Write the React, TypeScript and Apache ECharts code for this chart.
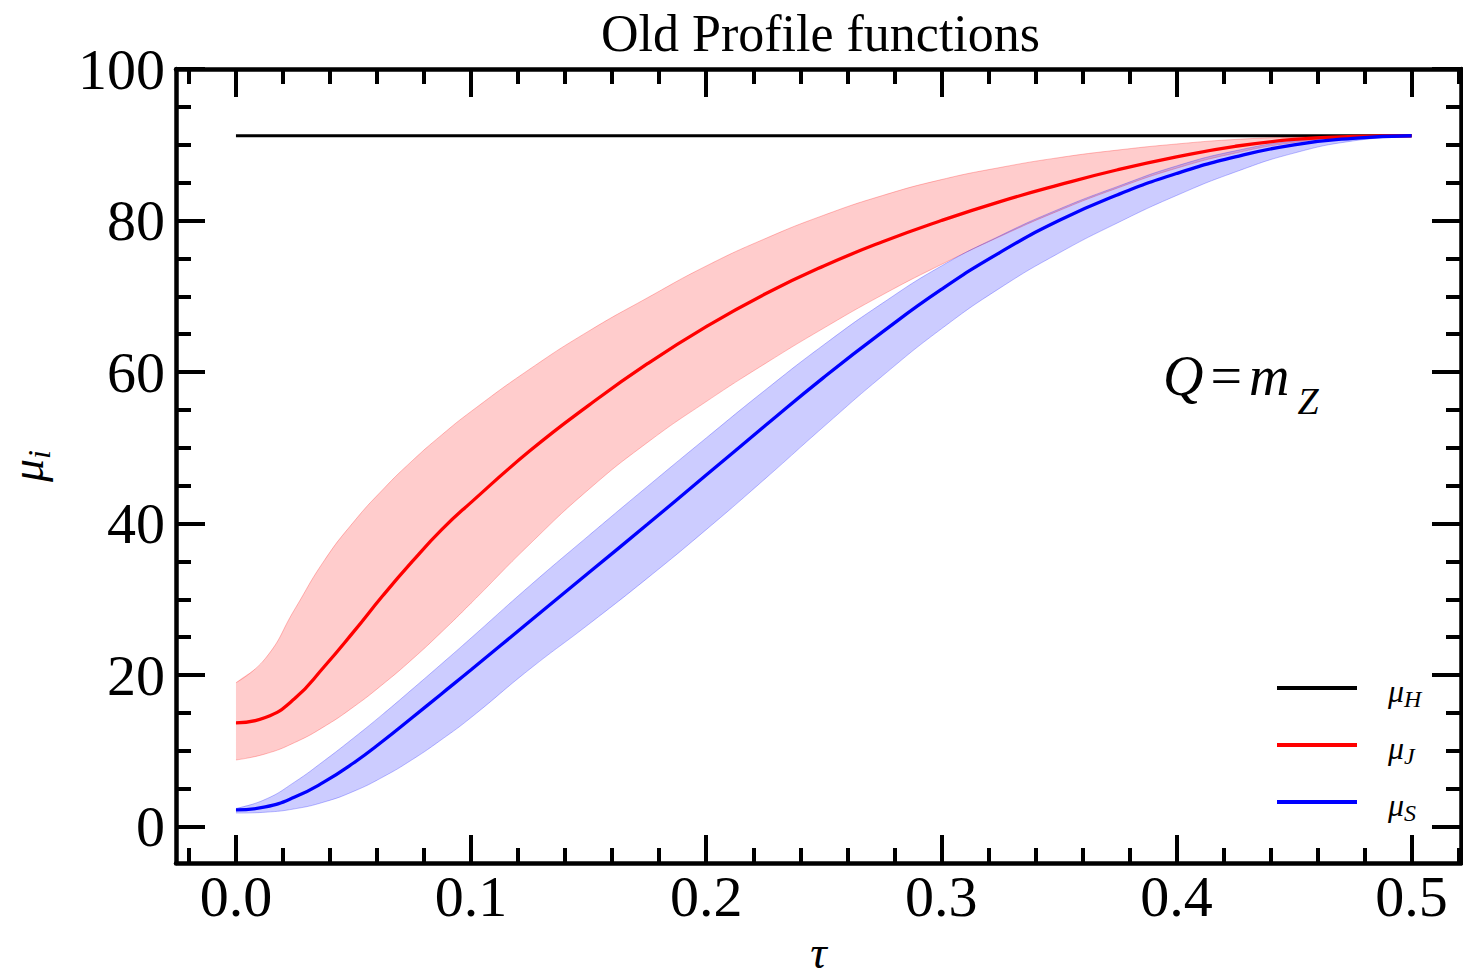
import React, { useEffect, useRef } from "react";
import * as echarts from "echarts";

// ---- data ----
const tau = [0, 0.0125, 0.025, 0.0375, 0.05, 0.0625, 0.075, 0.0875, 0.1, 0.125, 0.15, 0.175, 0.2, 0.225, 0.25, 0.275, 0.3, 0.325, 0.35, 0.375, 0.4, 0.425, 0.45, 0.475, 0.5];

const muH = [[0, 91.19], [0.5, 91.19]];

const muJ = [13.7, 14.4, 16.9, 21.1, 25.7, 30.5, 35.0, 39.2, 42.8, 49.6, 55.6, 61.1, 66.0, 70.3, 74.0, 77.2, 80.0, 82.5, 84.7, 86.7, 88.4, 89.8, 90.7, 91.1, 91.19];
const muJUp = [19.0, 22.2, 28.7, 35.1, 40.2, 44.5, 48.3, 51.7, 54.8, 60.4, 65.4, 69.8, 74.0, 77.6, 80.7, 83.3, 85.4, 87.0, 88.3, 89.3, 90.1, 90.7, 91.0, 91.15, 91.19];
const muJLo = [8.8, 9.6, 11.1, 13.2, 15.8, 18.8, 22.1, 25.7, 29.5, 37.3, 44.5, 50.7, 56.1, 61.1, 65.8, 70.2, 74.2, 77.9, 81.3, 84.3, 86.9, 88.9, 90.3, 91.0, 91.19];

const muS = [2.2, 2.6, 3.9, 5.9, 8.4, 11.3, 14.4, 17.55, 20.7, 27.1, 33.5, 39.9, 46.4, 52.9, 59.3, 65.3, 70.9, 75.8, 80.0, 83.4, 86.2, 88.4, 90.0, 90.85, 91.19];
const muSUp = [2.4, 3.6, 5.9, 8.7, 11.7, 14.85, 18.15, 21.5, 24.9, 31.8, 38.4, 44.9, 51.3, 57.6, 63.6, 69.1, 74.0, 78.0, 81.5, 84.5, 87.2, 89.2, 90.5, 91.05, 91.19];
const muSLo = [1.8, 1.9, 2.35, 3.25, 4.65, 6.55, 8.85, 11.5, 14.4, 20.8, 26.7, 32.8, 39.2, 45.9, 52.8, 59.5, 65.7, 71.1, 75.7, 79.7, 83.3, 86.4, 88.9, 90.5, 91.19];

const xMajor = [0, 0.1, 0.2, 0.3, 0.4, 0.5];
const xMinor = [-0.02, 0.02, 0.04, 0.06, 0.08, 0.12, 0.14, 0.16, 0.18, 0.22, 0.24, 0.26, 0.28, 0.32, 0.34, 0.36, 0.38, 0.42, 0.44, 0.46, 0.48, 0.52];
const yMajor = [0, 20, 40, 60, 80, 100];
const yMinor = [5, 10, 15, 25, 30, 35, 45, 50, 55, 65, 70, 75, 85, 90, 95];

const legendNames = ["μ_H", "μ_J", "μ_S"];

const XMIN = -0.0255;
const XMAX = 0.521;
const YMIN = -4.8;
const YMAX = 100;

const SERIF = "Liberation Serif";
const SMOOTH = 0.5;

const pairs = (ys: number[]) => tau.map((t, i) => [t, ys[i]]);

function xAxisDef(pos: string, ticks: number[], len: number, showLine: boolean, labels: boolean) {
  return {
    type: "value",
    position: pos,
    min: XMIN,
    max: XMAX,
    axisLine: { show: showLine, onZero: false, lineStyle: { color: "#000", width: 4.5 } },
    axisTick: { show: true, inside: true, length: len, customValues: ticks, lineStyle: { color: "#000", width: 4 } },
    axisLabel: labels
      ? {
          show: true,
          customValues: xMajor,
          formatter: (v: number) => v.toFixed(1),
          fontFamily: SERIF,
          fontSize: 58,
          color: "#000",
          margin: 4,
        }
      : { show: false },
    splitLine: { show: false },
    ...(labels
      ? {
          name: "τ",
          nameLocation: "middle",
          nameGap: 64,
          nameTextStyle: { fontFamily: SERIF, fontStyle: "italic", fontSize: 46, color: "#000" },
        }
      : {}),
  };
}

function yAxisDef(pos: string, ticks: number[], len: number, showLine: boolean, labels: boolean) {
  return {
    type: "value",
    position: pos,
    min: YMIN,
    max: YMAX,
    axisLine: { show: showLine, onZero: false, lineStyle: { color: "#000", width: 4.5 } },
    axisTick: { show: true, inside: true, length: len, customValues: ticks, lineStyle: { color: "#000", width: 4 } },
    axisLabel: labels
      ? {
          show: true,
          customValues: yMajor,
          formatter: (v: number) => String(v),
          fontFamily: SERIF,
          fontSize: 58,
          color: "#000",
          margin: 11,
        }
      : { show: false },
    splitLine: { show: false },
    ...(labels
      ? {
          name: "{mu|μ}{sub|i}",
          nameLocation: "middle",
          nameGap: 126,
          nameTextStyle: {
            color: "#000",
            rich: {
              mu: { fontFamily: SERIF, fontStyle: "italic", fontSize: 46, lineHeight: 46, color: "#000" },
              sub: { fontFamily: SERIF, fontStyle: "italic", fontSize: 32, lineHeight: 32, padding: [23, 0, 0, 0], color: "#000" },
            },
          },
        }
      : {}),
  };
}

function bandSeries(name: string, lo: number[], up: number[], fill: string, stroke: string) {
  return {
    type: "custom",
    name,
    silent: true,
    z: 3,
    clip: true,
    data: tau.map((t, i) => [t, lo[i], up[i]]),
    encode: { x: 0, y: [1, 2] },
    renderItem: (params: any, api: any) => {
      if (params.dataIndex !== 0) return null;
      const upPts = tau.map((t, i) => api.coord([t, up[i]]));
      const loPts = tau.map((t, i) => api.coord([t, lo[i]]));
      const loRev = loPts.slice().reverse();
      const poly = [upPts[0], ...upPts, ...loRev, loPts[0]];
      return {
        type: "group",
        children: [
          {
            type: "polygon",
            shape: { points: poly, smooth: SMOOTH },
            style: { fill, stroke: "none" },
          },
          {
            type: "polyline",
            shape: { points: upPts, smooth: SMOOTH },
            style: { fill: "none", stroke, lineWidth: 1 },
          },
          {
            type: "polyline",
            shape: { points: loPts, smooth: SMOOTH },
            style: { fill: "none", stroke, lineWidth: 1 },
          },
        ],
      };
    },
  };
}

export default function App() {
  const ref = useRef<HTMLDivElement>(null);

  useEffect(() => {
    if (!ref.current) return;
    const chart = echarts.init(ref.current, null, { renderer: "svg" });

    const option: any = {
      animation: false,
      backgroundColor: "#fff",
      title: {
        text: "Old Profile functions",
        left: 601,
        top: 7,
        padding: 0,
        textStyle: { fontFamily: SERIF, fontSize: 52, fontWeight: "normal", color: "#000" },
      },
      grid: { left: 176, top: 69, right: 2, bottom: 117, containLabel: false, outerBoundsMode: "none" },
      xAxis: [
        xAxisDef("bottom", xMajor, 28, true, true),
        xAxisDef("bottom", xMinor, 15, false, false),
        xAxisDef("top", xMajor, 28, true, false),
        xAxisDef("top", xMinor, 15, false, false),
      ],
      yAxis: [
        yAxisDef("left", yMajor, 29, true, true),
        yAxisDef("left", yMinor, 15, false, false),
        yAxisDef("right", yMajor, 29, true, false),
        yAxisDef("right", yMinor, 15, false, false),
      ],
      legend: {
        data: legendNames,
        orient: "vertical",
        left: 1277,
        top: 665,
        padding: 0,
        itemWidth: 80,
        itemHeight: 4,
        itemGap: 11,
        icon: "rect",
        formatter: (name: string) => {
          const s = name.split("_")[1];
          return `{mu|μ}{sub|${s}}`;
        },
        textStyle: {
          color: "#000",
          rich: {
            mu: { fontFamily: SERIF, fontStyle: "italic", fontSize: 32, lineHeight: 32, padding: [6, 0, 0, 26], color: "#000" },
            sub: { fontFamily: SERIF, fontStyle: "italic", fontSize: 24, lineHeight: 24, padding: [22, 0, 0, 0], color: "#000" },
          },
        },
      },
      graphic: [
        {
          type: "text",
          left: 1163,
          top: 332,
          style: {
            text: "{q|Q}{e|=}{m|m}{z|Z}",
            fill: "#000",
            rich: {
              q: { fontFamily: SERIF, fontStyle: "italic", fontSize: 56, lineHeight: 56, fill: "#000" },
              e: { fontFamily: SERIF, fontSize: 56, lineHeight: 56, padding: [0, 7, 0, 7], fill: "#000" },
              m: { fontFamily: SERIF, fontStyle: "italic", fontSize: 56, lineHeight: 56, fill: "#000" },
              z: { fontFamily: SERIF, fontStyle: "italic", fontSize: 38, lineHeight: 38, padding: [50, 0, 0, 8], fill: "#000" },
            },
          },
        },
      ],
      series: [
        {
          name: "μ_H",
          type: "line",
          data: muH,
          color: "#000",
          showSymbol: false,
          symbol: "none",
          lineStyle: { color: "#000", width: 3 },
          z: 2,
        },
        bandSeries("μ_J band", muJLo, muJUp, "rgba(255,0,0,0.2)", "rgba(255,0,0,0.25)"),
        bandSeries("μ_S band", muSLo, muSUp, "rgba(0,0,255,0.2)", "rgba(0,0,255,0.25)"),
        {
          name: "μ_J",
          type: "line",
          data: pairs(muJ),
          smooth: SMOOTH,
          color: "#ff0000",
          symbol: "none",
          lineStyle: { color: "#ff0000", width: 3.3 },
          z: 4,
        },
        {
          name: "μ_S",
          type: "line",
          data: pairs(muS),
          smooth: SMOOTH,
          color: "#0000ff",
          symbol: "none",
          lineStyle: { color: "#0000ff", width: 3.3 },
          z: 5,
        },
      ],
    };

    chart.setOption(option);
    return () => chart.dispose();
  }, []);

  return (
    <div
      ref={ref}
      style={{ position: "fixed", left: 0, top: 0, width: 1463, height: 980, background: "#fff" }}
    />
  );
}
